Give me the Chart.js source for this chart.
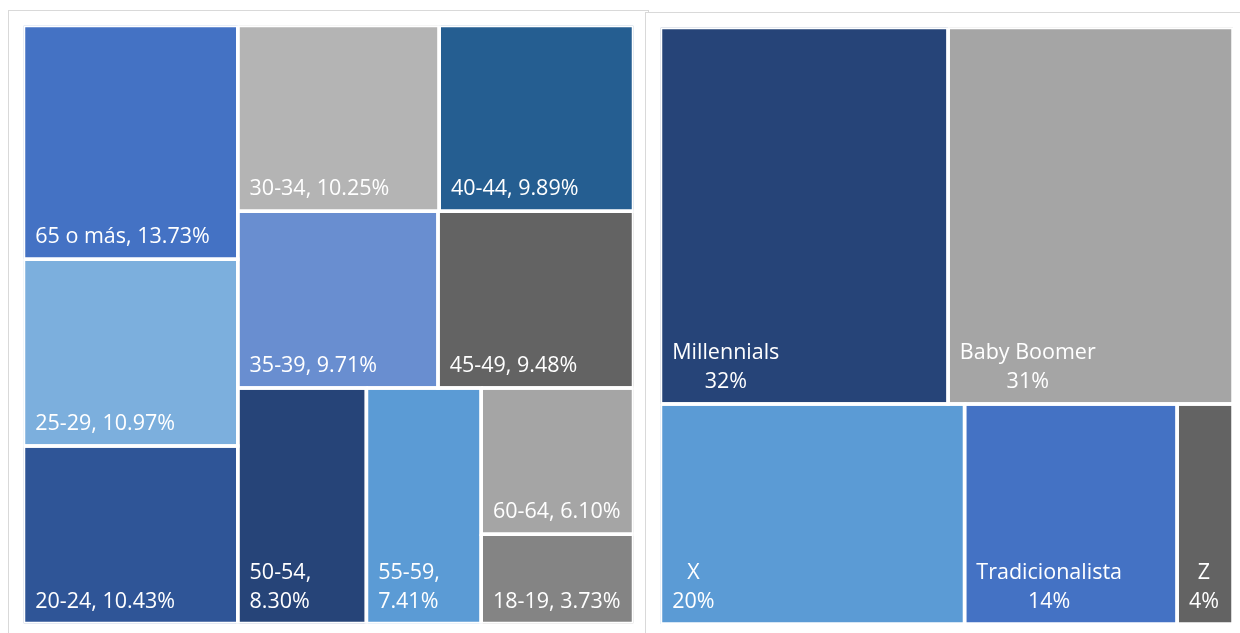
<!DOCTYPE html>
<html lang="es">
<head>
  <meta charset="UTF-8">
  <title>Treemap edades y generaciones</title>
  <style>
    html, body { margin: 0; background: #fff; overflow: hidden; }
    .panel { position: absolute; background: #fff; border: 1px solid #d9d9d9; overflow: hidden; }
    #panelEdad { left: 8px; top: 10px; width: 639px; height: 640px; }
    #panelGen { left: 645px; top: 12px; width: 610px; height: 640px; }
    canvas { position: absolute; left: 0; top: 0; }
  </style>
  <script src="https://cdn.jsdelivr.net/npm/chart.js"></script>
</head>
<body>
  <div id="panelEdad" class="panel"><canvas id="chartEdad" width="639" height="630"></canvas></div>
  <div id="panelGen" class="panel"><canvas id="chartGen" width="594" height="630"></canvas></div>
  <script>
    // grupos de edad (%), ordenados de mayor a menor
    const edadCats = ['65 o más', '25-29', '20-24', '30-34', '40-44', '35-39', '45-49', '50-54', '55-59', '60-64', '18-19'];
    const edadVals = [13.73, 10.97, 10.43, 10.25, 9.89, 9.71, 9.48, 8.30, 7.41, 6.10, 3.73];
    const edadColors = ['#4472C4', '#7CAFDD', '#2F5597', '#B4B4B4', '#255E91', '#698ED0', '#636363', '#264478', '#5B9BD5', '#A5A5A5', '#848484'];
    const edadGroups = [3, 2, 2, 1, 1, 1, 1]; // cuántas celdas van en cada franja

    // generaciones (%), estimadas por área; la etiqueta se muestra redondeada
    const genCats = ['Millennials', 'Baby Boomer', 'X', 'Tradicionalista', 'Z'];
    const genVals = [31.7, 31.4, 19.6, 13.7, 3.6];
    const genColors = ['#264478', '#A5A5A5', '#5B9BD5', '#4472C4', '#636363'];
    const genGroups = [2, 1, 1, 1];

    const FONT = '21.5px "Open Sans"';
    const GAP = 3.5;

    // reparte el rectángulo en franjas; la franja va por el lado más corto
    function layout(vals, groups, W, H) {
      let x = 0, y = 0, w = W, h = H;
      let rest = vals.reduce((a, b) => a + b, 0);
      let i = 0;
      const rects = [];
      groups.forEach(n => {
        const items = vals.slice(i, i + n);
        const s = items.reduce((a, b) => a + b, 0);
        if (w >= h) {
          const cw = w * s / rest;
          let yy = y;
          items.forEach(v => {
            const ch = h * v / s;
            rects.push({ x: x, y: yy, w: cw, h: ch });
            yy += ch;
          });
          x += cw; w -= cw;
        } else {
          const rh = h * s / rest;
          let xx = x;
          items.forEach(v => {
            const cw = w * v / s;
            rects.push({ x: xx, y: y, w: cw, h: rh });
            xx += cw;
          });
          y += rh; h -= rh;
        }
        rest -= s;
        i += n;
      });
      return rects;
    }

    function drawTreemap(canvasId, cats, vals, colors, groups, pad, mode) {
      const canvas = document.getElementById(canvasId);
      const W = canvas.width - pad.left - pad.right;
      const H = canvas.height - pad.top - pad.bottom;
      const rects = layout(vals, groups, W, H);

      const datasets = rects.map((r, i) => ({
        label: cats[i],
        data: [
          { x: r.x, y: r.y }, { x: r.x + r.w, y: r.y },
          { x: r.x + r.w, y: r.y + r.h }, { x: r.x, y: r.y + r.h },
          { x: r.x, y: r.y }
        ],
        showLine: true,
        fill: 'shape',
        tension: 0,
        backgroundColor: colors[i],
        borderColor: '#ffffff',
        borderWidth: GAP,
        pointRadius: 0
      }));

      const labelPlugin = {
        id: 'cellLabels',
        afterDatasetsDraw(chart) {
          const ctx = chart.ctx;
          const xs = chart.scales.x, ys = chart.scales.y;
          ctx.save();
          ctx.fillStyle = '#ffffff';
          ctx.font = FONT;
          ctx.textBaseline = 'alphabetic';
          rects.forEach((r, i) => {
            const x0 = xs.getPixelForValue(r.x) + GAP / 2;
            const x1 = xs.getPixelForValue(r.x + r.w) - GAP / 2;
            const bottom = ys.getPixelForValue(r.y + r.h) - GAP / 2;
            const left = x0 + 10;
            let lines, center;
            if (mode === 'inline') {
              const one = cats[i] + ', ' + vals[i].toFixed(2) + '%';
              lines = ctx.measureText(one).width + 14 <= x1 - x0 ? [one] : [cats[i] + ',', vals[i].toFixed(2) + '%'];
              center = false;
            } else {
              lines = [cats[i], Math.round(vals[i]) + '%'];
              center = true;
            }
            const blockW = Math.max(...lines.map(t => ctx.measureText(t).width));
            lines.forEach((t, k) => {
              const by = bottom - 14 - (lines.length - 1 - k) * 29;
              const tx = center ? left + (blockW - ctx.measureText(t).width) / 2 : left;
              ctx.fillText(t, tx, by);
            });
          });
          ctx.restore();
        }
      };

      new Chart(canvas.getContext('2d'), {
        type: 'scatter',
        data: { datasets: datasets },
        options: {
          responsive: false,
          animation: false,
          layout: { padding: pad },
          scales: {
            x: { type: 'linear', min: 0, max: W, display: false },
            y: { type: 'linear', min: 0, max: H, reverse: true, display: false }
          },
          plugins: {
            legend: { display: false },
            tooltip: { enabled: false },
            filler: { drawTime: 'beforeDatasetsDraw' }
          }
        },
        plugins: [labelPlugin]
      });
    }

    drawTreemap('chartEdad', edadCats, edadVals, edadColors, edadGroups,
      { left: 14.5, top: 14.5, right: 14.5, bottom: 17.5 }, 'inline');
    drawTreemap('chartGen', genCats, genVals, genColors, genGroups,
      { left: 14.5, top: 14.5, right: 7, bottom: 19 }, 'stacked');
  </script>
</body>
</html>
